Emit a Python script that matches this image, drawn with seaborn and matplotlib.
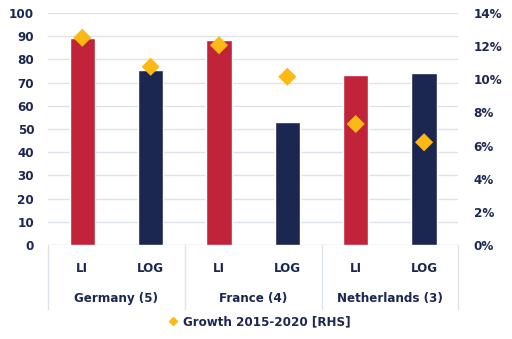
import matplotlib
matplotlib.use("Agg")
import matplotlib.pyplot as plt
import matplotlib.transforms as mtransforms
from matplotlib.lines import Line2D
import seaborn as sns
import pandas as pd

# ---- data ----
countries = ["Germany (5)", "France (4)", "Netherlands (3)"]
types = ["LI", "LOG"]
bar_values = [89, 75.5, 88.5, 53, 73.3, 74.1]
growth_pct = [12.5, 10.75, 12.05, 10.15, 7.3, 6.2]
left_ticks = [0, 10, 20, 30, 40, 50, 60, 70, 80, 90, 100]
right_ticks = [0, 2, 4, 6, 8, 10, 12, 14]
legend_label = "Growth 2015-2020 [RHS]"

RED = "#C1233A"
NAVY = "#1C2751"
GOLD = "#FDB913"
GRID = "#DCE3EA"
TEXT = "#1C2751"

sns.set_style("white")
plt.rcParams["font.family"] = ["DejaVu Sans"]
plt.rcParams["font.stretch"] = "condensed"
plt.rcParams["font.weight"] = "bold"
FS = 9.5

keys = [f"{c}|{t}" for c in countries for t in types]
df = pd.DataFrame({
    "key": keys,
    "type": [t for c in countries for t in types],
    "value": bar_values,
    "growth": growth_pct,
})

fig = plt.figure(figsize=(5.12, 3.39), dpi=100)
ax = fig.add_axes([0.094, 0.277, 0.801, 0.685])

sns.barplot(data=df, x="key", y="value", hue="type", palette={"LI": RED, "LOG": NAVY},
            dodge=False, width=0.37, legend=False, ax=ax, saturation=1, zorder=3)
ax.set_ylim(0, 100)
ax.set_xlim(-0.5, 5.5)
ax.set_yticks(left_ticks)
ax.yaxis.grid(True, color=GRID, linewidth=1.0, zorder=0)
ax.set_axisbelow(True)
for s in ax.spines.values():
    s.set_visible(False)
ax.set_xlabel("")
ax.set_ylabel("")
ax.set_xticks(range(6))
ax.set_xticklabels([t for c in countries for t in types], color=TEXT, fontsize=FS)
ax.tick_params(axis="x", length=0, pad=12)
ax.tick_params(axis="y", length=0, pad=10, labelcolor=TEXT, labelsize=FS)
ax.axhline(0, color=GRID, linewidth=1.0, zorder=1)

ax2 = ax.twinx()
sns.scatterplot(data=df, x="key", y="growth", marker="D", color=GOLD, s=85,
                edgecolor="none", ax=ax2, zorder=5, legend=False)
ax2.set_ylim(0, 14)
ax2.set_yticks(right_ticks)
ax2.set_yticklabels([f"{v}%" for v in right_ticks])
ax2.tick_params(axis="y", length=0, pad=11, labelcolor=TEXT, labelsize=FS)
ax2.set_ylabel("")
ax2.set_xlabel("")
for s in ax2.spines.values():
    s.set_visible(False)
ax2.set_xlim(-0.5, 5.5)

# group separators and labels
trans = mtransforms.blended_transform_factory(ax.transData, ax.transAxes)
for xb in [-0.5, 1.5, 3.5, 5.5]:
    ax.plot([xb, xb], [0, -0.275], transform=trans, color=GRID, linewidth=1.0,
            clip_on=False, zorder=1)
for i, c in enumerate(countries):
    ax.text(2 * i + 0.5, -0.232, c, transform=trans, ha="center", va="center",
            color=TEXT, fontsize=FS)

handle = Line2D([], [], marker="D", color=GOLD, linestyle="none", markersize=4)
fig.legend([handle], [legend_label], loc="center", bbox_to_anchor=(0.505, 0.05),
           frameon=False, fontsize=FS, labelcolor=TEXT, handletextpad=0.3,
           handlelength=1.0)

fig.savefig("out.png", dpi=100)
